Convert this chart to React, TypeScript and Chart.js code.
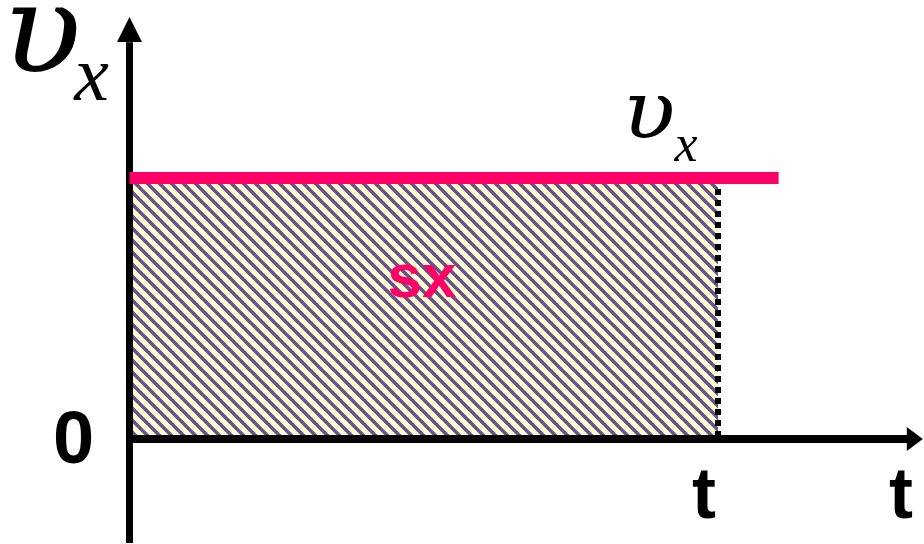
import React, { useEffect, useRef } from "react";
import { Chart, registerables } from "chart.js";

Chart.register(...registerables);

// ---- data (time in units of t, velocity in units of v_x) ----
const VELOCITY = 1; // constant v_x
const TIME_MARK = 1; // the time t marked on the axis
const RED_LINE_TIMES = [0, 1.103];
const AREA_TIMES = [0, 1];
const X_AXIS_TIMES = [0, 1.33];
const Y_AXIS_VALUES = [-0.398, 1.52];
const X_ARROW_TIP = 1.348;
const Y_ARROW_TIP = 1.617;
const TICK_LABELS = ["0", "t", "t"];
const AREA_LABEL = "sx";
const SYMBOL = "υ";
const SUBSCRIPT = "x";

function makePattern(): CanvasPattern | string {
  const c = document.createElement("canvas");
  const n = 12;
  c.width = n;
  c.height = n;
  const g = c.getContext("2d");
  if (!g) return "#ddd";
  g.fillStyle = "#ffffd2";
  g.fillRect(0, 0, n, n);
  g.strokeStyle = "#66538c";
  g.lineWidth = 3.6;
  for (const off of [-n, 0, n]) {
    g.beginPath();
    g.moveTo(off - 1, -1);
    g.lineTo(off + n + 1, n + 1);
    g.stroke();
  }
  const p = g.createPattern(c, "repeat");
  return p || "#ddd";
}

const annotationPlugin = {
  id: "annotations",
  afterDatasetsDraw(chart: any) {
    const ctx = chart.ctx as CanvasRenderingContext2D;
    const xs = chart.scales.x;
    const ys = chart.scales.y;
    const px = (t: number) => xs.getPixelForValue(t);
    const py = (v: number) => ys.getPixelForValue(v);

    ctx.save();
    ctx.fillStyle = "#000";
    // y arrow head
    const yx = px(0), yy = py(Y_ARROW_TIP);
    ctx.beginPath();
    ctx.moveTo(yx, yy);
    ctx.lineTo(yx + 12.5, yy + 25);
    ctx.lineTo(yx - 12.5, yy + 25);
    ctx.closePath();
    ctx.fill();
    // x arrow head
    const xx = px(X_ARROW_TIP), xy = py(0);
    ctx.beginPath();
    ctx.moveTo(xx, xy);
    ctx.lineTo(xx - 16, xy - 12);
    ctx.lineTo(xx - 16, xy + 12);
    ctx.closePath();
    ctx.fill();

    const text = (s: string, t: number, v: number, font: string, color: string, align: CanvasTextAlign, sx = 1) => {
      ctx.save();
      ctx.font = font;
      ctx.fillStyle = color;
      ctx.textAlign = align;
      ctx.textBaseline = "alphabetic";
      ctx.translate(px(t), py(v));
      ctx.scale(sx, 1);
      ctx.fillText(s, 0, 0);
      ctx.restore();
    };
    const serifI = (size: number) => `italic ${size}px 'Liberation Serif', 'DejaVu Serif', serif`;
    const dejaI = (size: number) => `italic ${size}px 'DejaVu Serif', serif`;
    const sansB = (size: number) => `bold ${size}px 'Liberation Sans', Arial, sans-serif`;

    // axis title v_x (top-left)
    text(SYMBOL, -0.216, 1.406, dejaI(124), "#000", "left", 1.05);
    text(SUBSCRIPT, -0.094, 1.299, serifI(78), "#000", "left");
    // line label v_x
    text(SYMBOL, 0.838, 1.153, dejaI(80), "#000", "left", 1.08);
    text(SUBSCRIPT, 0.926, 1.065, serifI(52), "#000", "left");
    // area label
    text(AREA_LABEL, AREA_TIMES[0] + (AREA_TIMES[1] - AREA_TIMES[0]) * 0.497, VELOCITY * 0.544, sansB(62), "#ff0066", "center");
    // tick labels
    text(TICK_LABELS[0], -0.095, -0.092, sansB(74), "#000", "center");
    text(TICK_LABELS[1], TIME_MARK - 0.024, -0.303, sansB(72), "#000", "center");
    text(TICK_LABELS[2], 1.311, -0.303, sansB(72), "#000", "center");
    ctx.restore();
  },
};

export default function App() {
  const ref = useRef<HTMLCanvasElement | null>(null);

  useEffect(() => {
    if (!ref.current) return;
    const pattern = makePattern();
    const line = (data: { x: number; y: number }[], extra: any) => ({
      type: "line" as const,
      data,
      pointRadius: 0,
      borderCapStyle: "butt",
      tension: 0,
      fill: false,
      ...extra,
    });
    const chart = new Chart(ref.current, {
      type: "line",
      data: {
        datasets: [
          line(RED_LINE_TIMES.map((t) => ({ x: t, y: VELOCITY })), {
            borderColor: "#ff0066",
            borderWidth: 12,
            order: 1,
          }),
          line(Y_AXIS_VALUES.map((v) => ({ x: 0, y: v })), {
            borderColor: "#000",
            borderWidth: 7,
            order: 2,
          }),
          line(X_AXIS_TIMES.map((t) => ({ x: t, y: 0 })), {
            borderColor: "#000",
            borderWidth: 8,
            order: 3,
          }),
          line([{ x: TIME_MARK, y: VELOCITY }, { x: TIME_MARK, y: 0 }], {
            borderColor: "#000",
            borderWidth: 6,
            borderDash: [6, 5],
            order: 4,
          }),
          line(AREA_TIMES.map((t) => ({ x: t, y: VELOCITY })), {
            borderWidth: 0,
            borderColor: "rgba(0,0,0,0)",
            backgroundColor: pattern,
            fill: "origin",
            order: 5,
          }),
        ] as any,
      },
      options: {
        animation: false,
        responsive: false,
        maintainAspectRatio: false,
        devicePixelRatio: 1,
        layout: { padding: 0 },
        events: [],
        plugins: { legend: { display: false }, tooltip: { enabled: false } },
        scales: {
          x: { type: "linear", min: -0.22, max: 1.35, display: false },
          y: { type: "linear", min: -0.402, max: 1.682, display: false },
        },
      },
      plugins: [annotationPlugin],
    });
    return () => chart.destroy();
  }, []);

  return (
    <div style={{ position: "fixed", left: 0, top: 0, width: 924, height: 544, background: "#fff" }}>
      <canvas ref={ref} width={924} height={544} style={{ display: "block" }} />
    </div>
  );
}
